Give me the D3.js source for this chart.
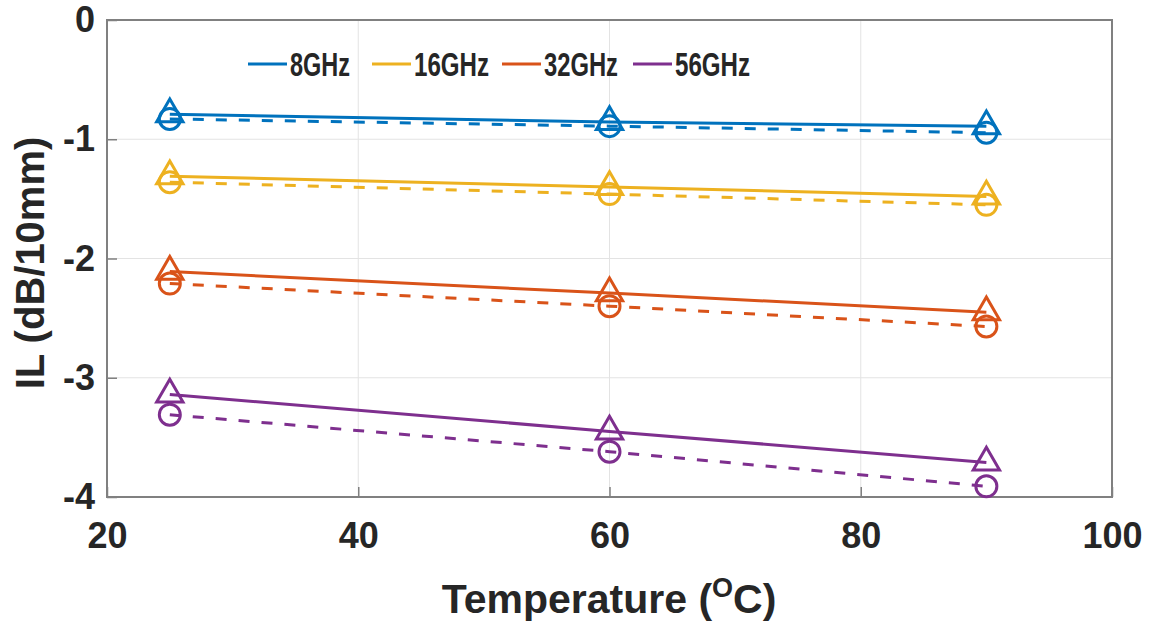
<!DOCTYPE html>
<html>
<head>
<meta charset="utf-8">
<script src="https://cdn.jsdelivr.net/npm/d3@7"></script>
<style>
  body { margin: 0; background: #fff; }
  text { font-family: "Liberation Sans", Arial, sans-serif; font-weight: bold; fill: #262626; }
</style>
</head>
<body>
<div id="chart"></div>
<script>
// data
var temps = [25, 60, 90]
var freqs = ["8GHz", "16GHz", "32GHz", "56GHz"]
var colors = ["#0072BD", "#EDB120", "#D95319", "#7E2F8E"]
// solid lines, triangle markers
var solid8 = [-0.79, -0.855, -0.89]
var solid16 = [-1.31, -1.40, -1.48]
var solid32 = [-2.11, -2.29, -2.45]
var solid56 = [-3.14, -3.45, -3.71]
// dashed lines, circle markers
var dash8 = [-0.83, -0.89, -0.945]
var dash16 = [-1.36, -1.46, -1.55]
var dash32 = [-2.21, -2.40, -2.57]
var dash56 = [-3.31, -3.62, -3.91]
var xTicks = [20, 40, 60, 80, 100]
var yTicks = [0, -1, -2, -3, -4]

var solids = [solid8, solid16, solid32, solid56]
var dashes = [dash8, dash16, dash32, dash56]

var W = 1149, H = 626
var margin = { top: 20, left: 107, right: 37, bottom: 129 }
var width = W - margin.left - margin.right,
  height = H - margin.top - margin.bottom

var svg = d3.select("#chart").append("svg")
  .attr("width", W)
  .attr("height", H)

var g = svg.append("g")
  .attr("transform", "translate(" + margin.left + "," + margin.top + ")")

var x = d3.scaleLinear().domain([20, 100]).range([0, width])
var y = d3.scaleLinear().domain([-4, 0]).range([height, 0])

// grid
g.selectAll(".gx").data(xTicks.slice(1, -1)).enter().append("line")
  .attr("x1", d => x(d)).attr("x2", d => x(d))
  .attr("y1", 0).attr("y2", height)
  .attr("stroke", "#e3e3e3").attr("stroke-width", 1)
g.selectAll(".gy").data(yTicks.slice(1, -1)).enter().append("line")
  .attr("y1", d => y(d)).attr("y2", d => y(d))
  .attr("x1", 0).attr("x2", width)
  .attr("stroke", "#e3e3e3").attr("stroke-width", 1)

// plain hyphen for the minus sign, like the original
var fmt = function(d) { return String(d) }

// axes: ticks inward, labels outside
var xAxis = g.append("g")
  .attr("transform", "translate(0," + height + ")")
  .call(d3.axisBottom(x).tickValues(xTicks).tickFormat(fmt).tickSizeInner(-10).tickSizeOuter(0).tickPadding(25))
var yAxis = g.append("g")
  .call(d3.axisLeft(y).tickValues(yTicks).tickFormat(fmt).tickSizeInner(-10).tickSizeOuter(0).tickPadding(12))

;[xAxis, yAxis].forEach(function(a) {
  a.select(".domain").remove()
  a.selectAll(".tick line").attr("stroke", "#808080").attr("stroke-width", 1.5)
  a.selectAll(".tick text")
    .attr("font-size", 36)
    .attr("font-family", "Liberation Sans, Arial, sans-serif")
    .attr("font-weight", "bold")
    .attr("fill", "#262626")
})
xAxis.selectAll(".tick text").attr("dy", "0.71em")

// box
g.append("rect")
  .attr("x", 0).attr("y", 0)
  .attr("width", width).attr("height", height)
  .attr("fill", "none")
  .attr("stroke", "#808080").attr("stroke-width", 2)

var line = d3.line()
  .x(function(d, i) { return x(temps[i]) })
  .y(function(d) { return y(d) })

var tri = d3.symbol().type(d3.symbolTriangle).size(300)

freqs.forEach(function(f, k) {
  var c = colors[k]
  g.append("path")
    .datum(dashes[k])
    .attr("d", line)
    .attr("fill", "none")
    .attr("stroke", c).attr("stroke-width", 3)
    .attr("stroke-dasharray", "11,12")
  g.append("path")
    .datum(solids[k])
    .attr("d", line)
    .attr("fill", "none")
    .attr("stroke", c).attr("stroke-width", 3)

  g.selectAll(".circ" + k).data(dashes[k]).enter().append("circle")
    .attr("cx", (d, i) => x(temps[i]))
    .attr("cy", d => y(d))
    .attr("r", 10.5)
    .attr("fill", "none")
    .attr("stroke", c).attr("stroke-width", 3)

  g.selectAll(".tri" + k).data(solids[k]).enter().append("path")
    .attr("d", tri)
    .attr("transform", (d, i) => "translate(" + x(temps[i]) + "," + y(d) + ")")
    .attr("fill", "none")
    .attr("stroke", c).attr("stroke-width", 3)
})

// legend
var legendX = [248, 372, 502, 633]
var legendTextW = [60, 75, 74, 75]
var leg = svg.append("g")
freqs.forEach(function(f, k) {
  leg.append("line")
    .attr("x1", legendX[k]).attr("x2", legendX[k] + 39)
    .attr("y1", 64).attr("y2", 64)
    .attr("stroke", colors[k]).attr("stroke-width", 3)
  leg.append("text")
    .attr("x", legendX[k] + 42)
    .attr("y", 76)
    .attr("font-size", 33)
    .attr("textLength", legendTextW[k])
    .attr("lengthAdjust", "spacingAndGlyphs")
    .attr("fill", "#000")
    .text(f)
})

// axis titles
var xt = svg.append("text")
  .attr("x", 609)
  .attr("y", 613)
  .attr("text-anchor", "middle")
  .attr("font-size", 41)
xt.append("tspan").text("Temperature (")
xt.append("tspan").attr("dy", -16).attr("font-size", 27).text("O")
xt.append("tspan").attr("dy", 16).text("C)")

svg.append("text")
  .attr("transform", "translate(44,263) rotate(-90)")
  .attr("text-anchor", "middle")
  .attr("font-size", 40)
  .text("IL (dB/10mm)")
</script>
</body>
</html>
